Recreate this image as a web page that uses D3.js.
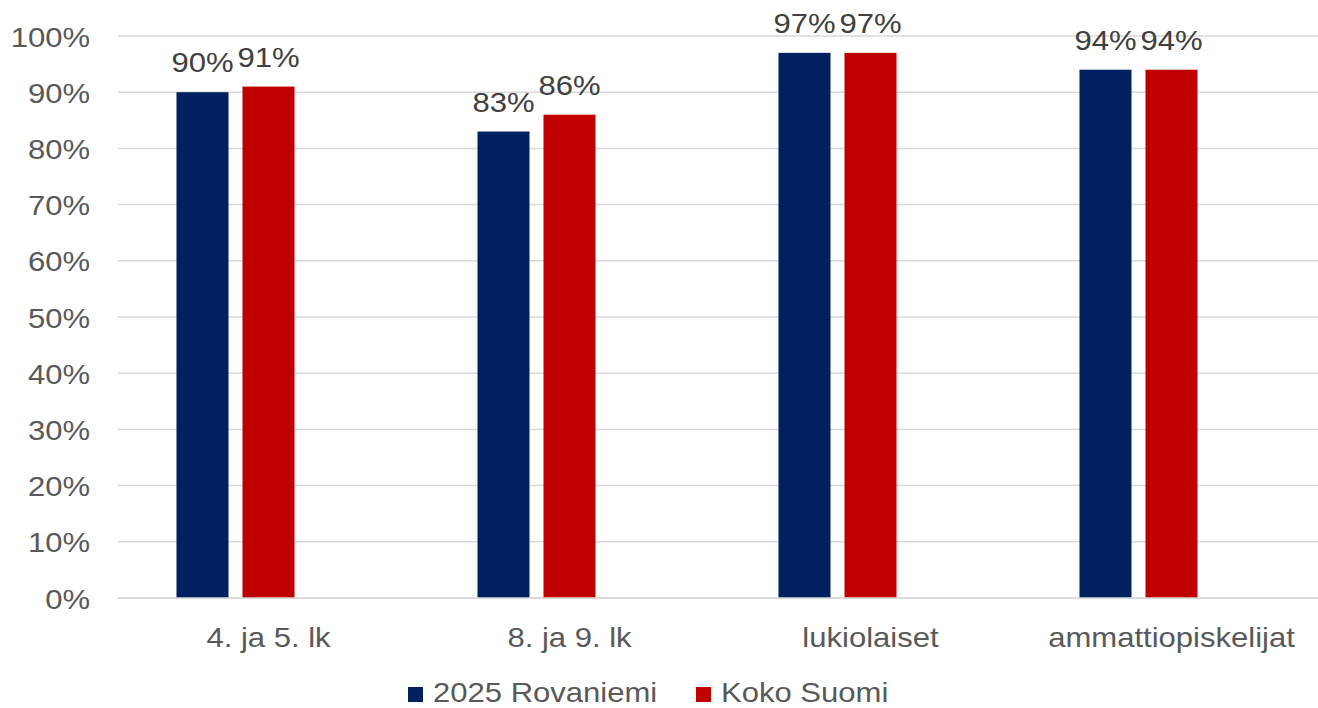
<!DOCTYPE html>
<html>
<head>
<meta charset="utf-8">
<script src="https://cdn.jsdelivr.net/npm/d3@7"></script>
<style>
  html, body { margin: 0; padding: 0; background: #fff; }
  svg { display: block; font-family: "Liberation Sans", Arial, sans-serif; }
</style>
</head>
<body>
<svg id="chart" width="1318" height="708"></svg>
<script>
// Osuudet ryhmittäin (%)
const categories = ["4. ja 5. lk", "8. ja 9. lk", "lukiolaiset", "ammattiopiskelijat"];
const seriesNames = ["2025 Rovaniemi", "Koko Suomi"];
const rovaniemi = [90, 83, 97, 94];
const kokoSuomi = [91, 86, 97, 94];
const yTicks = [0, 10, 20, 30, 40, 50, 60, 70, 80, 90, 100];
const colors = ["#002060", "#C00000"];

const svg = d3.select("#chart");
const margin = { left: 118, right: -4, top: 36, bottom: 110 };
const W = 1318, H = 708;
const FS = 27;       // font size
const STRETCH = 1.15; // horizontal text stretch

// move a text's x/y into a transform so it can be widened
function widen(sel) {
  sel.each(function () {
    const t = d3.select(this);
    const tx = +t.attr("x") || 0, ty = +t.attr("y") || 0;
    t.attr("x", 0).attr("y", 0)
      .attr("transform", `translate(${tx},${ty}) scale(${STRETCH},1)`);
  });
}

const x0 = d3.scaleBand().domain(categories).range([margin.left, W - margin.right]).padding(0);
// three slots per group, the third one left empty
const slots = [...seriesNames, "_"];
const x1 = d3.scaleBand().domain(slots).range([0, x0.bandwidth()])
  .paddingInner(14 / 66).paddingOuter(0.886);
const y = d3.scaleLinear().domain([0, 100]).range([H - margin.bottom, margin.top]);

// gridlines
svg.append("g").selectAll("line").data(yTicks).join("line")
  .attr("x1", margin.left).attr("x2", W)
  .attr("y1", d => y(d)).attr("y2", d => y(d))
  .attr("stroke", "#d9d9d9").attr("stroke-width", 1.5);

// y axis labels
const yAxis = d3.axisLeft(y).tickValues(yTicks).tickFormat(d => d + "%").tickSize(0).tickPadding(0);
const ya = svg.append("g").attr("transform", "translate(90,0)").call(yAxis);
ya.select(".domain").remove();
ya.selectAll("text").attr("font-size", FS).attr("fill", "#595959")
  .attr("font-family", "Liberation Sans, Arial, sans-serif").attr("dy", null).attr("y", 10)
  .call(widen);

// bars
const rows = categories.map((c, i) => ({ cat: c, vals: [rovaniemi[i], kokoSuomi[i]] }));
const grp = svg.append("g").selectAll("g").data(rows).join("g")
  .attr("transform", d => `translate(${x0(d.cat)},0)`);
grp.selectAll("rect").data(d => d.vals.map((v, j) => ({ v, s: seriesNames[j], j }))).join("rect")
  .attr("x", d => x1(d.s)).attr("width", x1.bandwidth())
  .attr("y", d => y(d.v)).attr("height", d => y(0) - y(d.v))
  .attr("fill", d => colors[d.j]);
grp.selectAll("text").data(d => d.vals.map((v, j) => ({ v, s: seriesNames[j], j }))).join("text")
  .attr("x", d => x1(d.s) + x1.bandwidth() / 2).attr("y", d => y(d.v) - 20)
  .attr("text-anchor", "middle").attr("font-size", FS).attr("fill", "#404040")
  .text(d => d.v + "%")
  .call(widen);

// category axis line + labels
svg.append("line").attr("x1", margin.left).attr("x2", W)
  .attr("y1", y(0)).attr("y2", y(0)).attr("stroke", "#d9d9d9").attr("stroke-width", 1.5);
const xAxis = d3.axisBottom(x0).tickSize(0).tickPadding(0);
const xa = svg.append("g").attr("transform", `translate(0,${y(0)})`).call(xAxis);
xa.select(".domain").remove();
xa.selectAll("text").attr("font-size", FS).attr("fill", "#595959")
  .attr("font-family", "Liberation Sans, Arial, sans-serif").attr("dy", null).attr("y", 49)
  .call(widen);

// legend
const legendItems = [
  { name: seriesNames[0], color: colors[0], x: 408 },
  { name: seriesNames[1], color: colors[1], x: 696 }
];
const lg = svg.append("g").selectAll("g").data(legendItems).join("g")
  .attr("transform", d => `translate(${d.x},0)`);
lg.append("rect").attr("x", 0).attr("y", 687).attr("width", 15).attr("height", 15).attr("fill", d => d.color);
lg.append("text").attr("x", 25).attr("y", 702).attr("font-size", FS).attr("fill", "#595959")
  .text(d => d.name).call(widen);
</script>
</body>
</html>
